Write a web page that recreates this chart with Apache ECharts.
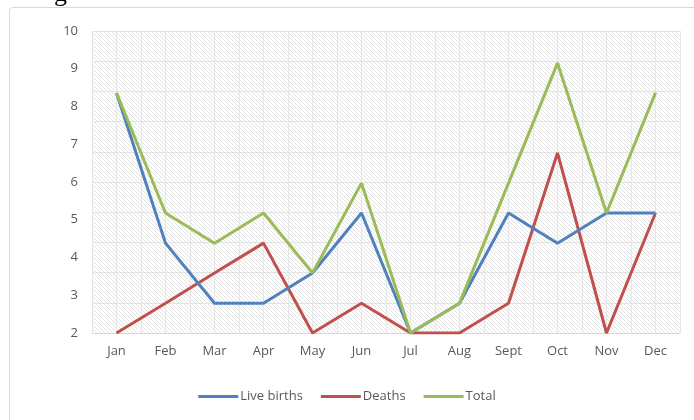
<!DOCTYPE html>
<html>
<head>
<meta charset="utf-8">
<script src="https://cdn.jsdelivr.net/npm/echarts@6/dist/echarts.min.js"></script>
<style>
  html, body { margin: 0; padding: 0; background: #ffffff; }
  #chart { width: 694px; height: 420px; }
</style>
</head>
<body>
<div id="chart"></div>
<script>
// Month labels on the category axis
var months = ['Jan', 'Feb', 'Mar', 'Apr', 'May', 'Jun', 'Jul', 'Aug', 'Sept', 'Oct', 'Nov', 'Dec'];

// Values in the units of the left axis (2 to 10)
var liveBirths = [8.36, 4.38, 2.79, 2.79, 3.59, 5.18, 2.00, 2.79, 5.18, 4.38, 5.18, 5.18];
var deaths     = [2.00, 2.79, 3.59, 4.38, 2.00, 2.79, 2.00, 2.00, 2.79, 6.77, 2.00, 5.18];
var total      = [8.36, 5.18, 4.38, 5.18, 3.59, 5.97, 2.00, 2.79, 5.97, 9.15, 5.18, 8.36];

// Axis range and step
var yMin = 2, yMax = 10, yStep = 1;

// Diagonal hatch used as the plot-area fill
function hatchPattern() {
  var c = document.createElement('canvas');
  c.width = 4; c.height = 4;
  var ctx = c.getContext('2d');
  ctx.fillStyle = '#ffffff';
  ctx.fillRect(0, 0, 4, 4);
  ctx.strokeStyle = '#e2e2e2';
  ctx.lineWidth = 1;
  ctx.beginPath();
  ctx.moveTo(-1, -1); ctx.lineTo(5, 5);
  ctx.moveTo(-1, 3); ctx.lineTo(1, 5);
  ctx.moveTo(3, -1); ctx.lineTo(5, 1);
  ctx.stroke();
  return c;
}

// Half-step minor cells for the background grid
var minorCells = [];
for (var i = 0; i < months.length * 2; i++) minorCells.push(String(i));

var chart = echarts.init(document.getElementById('chart'), null, { renderer: 'canvas' });

var labelFont = { color: '#595959', fontSize: 13, fontFamily: 'Open Sans, Noto Sans, sans-serif' };

chart.setOption({
  animation: false,
  backgroundColor: '#ffffff',
  graphic: [
    {
      type: 'rect',
      shape: { x: 9.5, y: 7.5, width: 700, height: 430, r: 3 },
      style: { fill: 'none', stroke: '#d9d9d9', lineWidth: 1 },
      z: -10
    },
    {
      type: 'text',
      left: 54, top: -19,
      style: { text: 'g', font: '26px "Liberation Serif", serif', fill: '#000000' }
    }
  ],
  grid: {
    left: 92, right: 14, top: 31, bottom: 87,
    show: true,
    borderWidth: 0,
    backgroundColor: { image: hatchPattern(), repeat: 'repeat' }
  },
  legend: {
    bottom: 12,
    left: 'center',
    itemWidth: 40,
    itemHeight: 3,
    itemGap: 18,
    icon: 'rect',
    textStyle: { color: '#595959', fontSize: 13, fontFamily: 'Open Sans, Noto Sans, sans-serif', padding: [0, 0, 0, -3] },
    data: ['Live births', 'Deaths', 'Total']
  },
  xAxis: [
    {
      type: 'category',
      data: months,
      boundaryGap: true,
      axisLine: { show: true, lineStyle: { color: '#d9d9d9', width: 1 } },
      axisTick: { show: false },
      axisLabel: Object.assign({ margin: 12 }, labelFont),
      splitLine: { show: false }
    },
    {
      type: 'category',
      data: minorCells,
      boundaryGap: true,
      position: 'bottom',
      show: true,
      axisLine: { show: false },
      axisTick: { show: false },
      axisLabel: { show: false },
      splitLine: { show: true, interval: 0, lineStyle: { color: '#e6e6e6', width: 1 } }
    }
  ],
  yAxis: [
    {
      type: 'value',
      min: yMin, max: yMax, interval: yStep,
      axisLine: { show: false },
      axisTick: { show: false },
      axisLabel: Object.assign({ margin: 14 }, labelFont),
      splitLine: { show: false }
    },
    {
      type: 'value',
      min: 0, max: 10, interval: 1,
      position: 'left',
      axisLine: { show: false },
      axisTick: { show: false },
      axisLabel: { show: false },
      splitLine: { show: true, lineStyle: { color: '#e2e2e2', width: 1 } }
    }
  ],
  series: [
    {
      name: 'Live births', type: 'line', data: liveBirths,
      yAxisIndex: 0, xAxisIndex: 0,
      symbol: 'none',
      lineStyle: { color: '#4F81BD', width: 3 },
      itemStyle: { color: '#4F81BD' },
      z: 3
    },
    {
      name: 'Deaths', type: 'line', data: deaths,
      yAxisIndex: 0, xAxisIndex: 0,
      symbol: 'none',
      lineStyle: { color: '#C0504D', width: 3 },
      itemStyle: { color: '#C0504D' },
      z: 2
    },
    {
      name: 'Total', type: 'line', data: total,
      yAxisIndex: 0, xAxisIndex: 0,
      symbol: 'none',
      lineStyle: { color: '#9BBB59', width: 3 },
      itemStyle: { color: '#9BBB59' },
      z: 4
    }
  ]
});
</script>
</body>
</html>
